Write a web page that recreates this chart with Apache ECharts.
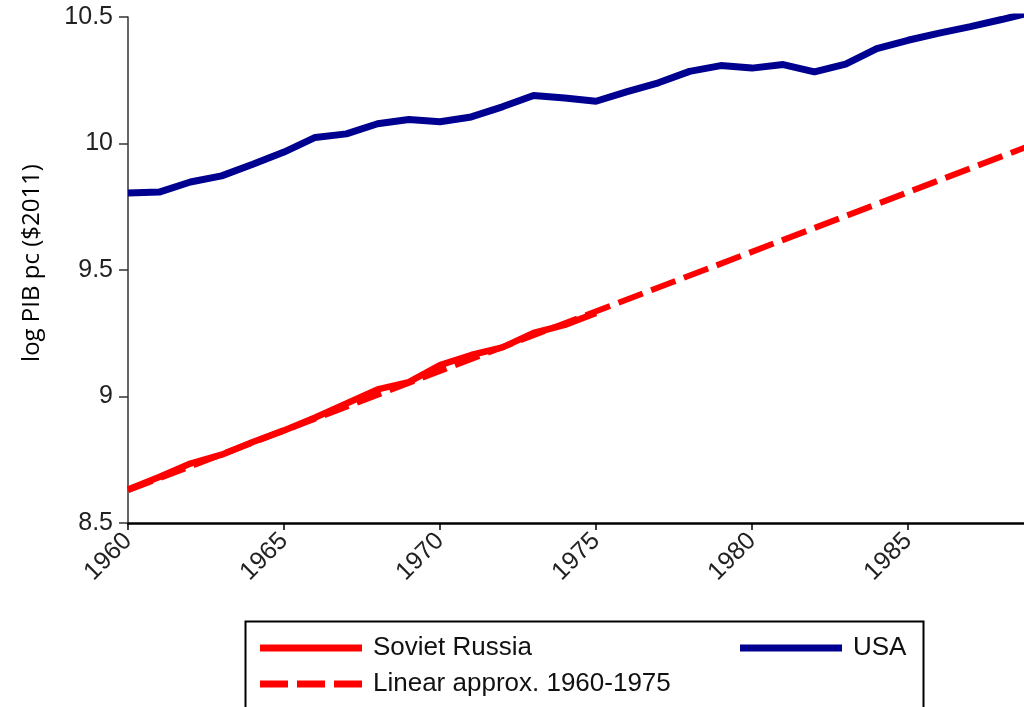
<!DOCTYPE html>
<html>
<head>
<meta charset="utf-8">
<script src="https://cdn.jsdelivr.net/npm/echarts@6/dist/echarts.min.js"></script>
<style>
  html, body { margin: 0; padding: 0; background: #fff; }
  #chart { width: 1024px; height: 707px; }
</style>
</head>
<body>
<div id="chart"></div>
<script>
// years shown on the x axis (the plot is cut on the right near 1989)
const years = [1960, 1961, 1962, 1963, 1964, 1965, 1966, 1967, 1968, 1969,
  1970, 1971, 1972, 1973, 1974, 1975, 1976, 1977, 1978, 1979,
  1980, 1981, 1982, 1983, 1984, 1985, 1986, 1987, 1988, 1989];

const usa = [9.804, 9.808, 9.848, 9.872, 9.918, 9.966, 10.024, 10.038, 10.078, 10.095,
  10.086, 10.105, 10.145, 10.19, 10.18, 10.167, 10.205, 10.24, 10.285, 10.308,
  10.298, 10.312, 10.283, 10.314, 10.375, 10.408, 10.436, 10.462, 10.49, 10.52];

// soviet russia, observed up to 1975
const russiaYears = years.slice(0, 16);
const russia = [8.632, 8.682, 8.735, 8.77, 8.82, 8.866, 8.917, 8.972, 9.028, 9.057,
  9.124, 9.164, 9.194, 9.251, 9.283, 9.33];

// linear approximation fitted on 1960-1975, extended
const linYears = [1960, 1990];
const linVals = [8.63, 10.043];

const yTicks = [8.5, 9, 9.5, 10, 10.5];

const pair = (xs, ys) => xs.map((x, i) => [x, ys[i]]);

// legend icons: plain bar and three dashes
const solidIcon = "path://M0,0h102v7h-102z";
const dashIcon = "path://M0,0h28v7h-28z M37,0h28v7h-28z M74,0h28v7h-28z";

const legendText = {
  fontFamily: "Liberation Sans, Arial",
  fontSize: 26,
  color: "#111",
  padding: [0, 0, 0, 6],
};

const chart = echarts.init(document.getElementById("chart"));

const option = {
  animation: false,
  backgroundColor: "#fff",
  grid: {
    left: 128,
    top: 17,
    width: 936,
    height: 506,
    outerBoundsMode: "none",
    containLabel: false,
  },
  xAxis: {
    type: "value",
    min: 1960,
    max: 1990,
    interval: 5,
    splitLine: { show: false },
    axisLine: { lineStyle: { color: "#000", width: 2.5 } },
    axisTick: { length: 7, lineStyle: { color: "#000", width: 1.5 } },
    axisLabel: {
      rotate: 45,
      margin: 14,
      showMaxLabel: false,
      fontFamily: "Liberation Sans, Arial",
      fontSize: 25,
      color: "#222",
      formatter: (v) => String(v),
    },
  },
  yAxis: {
    type: "value",
    min: yTicks[0],
    max: yTicks[yTicks.length - 1],
    interval: 0.5,
    name: "log PIB pc ($2011)",
    nameLocation: "middle",
    nameGap: 84,
    nameTextStyle: {
      fontFamily: "Open Sans",
      fontSize: 24,
      color: "#000",
      padding: [0, 0, 0, 14],
    },
    splitLine: { show: false },
    axisLine: { show: true, lineStyle: { color: "#333", width: 1.5 } },
    axisTick: { show: true, length: 9, lineStyle: { color: "#333", width: 1.5 } },
    axisLabel: {
      margin: 15,
      fontFamily: "Liberation Sans, Arial",
      fontSize: 25,
      color: "#222",
    },
  },
  legend: [
    {
      orient: "vertical",
      left: 255,
      top: 630,
      itemWidth: 102,
      itemHeight: 7,
      itemGap: 10,
      data: [
        { name: "Soviet Russia", icon: solidIcon },
        { name: "Linear approx. 1960-1975", icon: dashIcon },
      ],
      textStyle: legendText,
    },
    {
      left: 735,
      top: 630,
      itemWidth: 102,
      itemHeight: 7,
      data: [{ name: "USA", icon: solidIcon }],
      textStyle: legendText,
    },
  ],
  graphic: [
    {
      type: "rect",
      left: 243,
      top: 619,
      shape: { width: 678, height: 110 },
      style: { fill: null, stroke: "#000", lineWidth: 2 },
      z: -1,
    },
  ],
  series: [
    {
      name: "USA",
      type: "line",
      data: pair(years, usa),
      showSymbol: false,
      symbol: "none",
      lineStyle: { color: "#000090", width: 7 },
      itemStyle: { color: "#000090" },
    },
    {
      name: "Soviet Russia",
      type: "line",
      data: pair(russiaYears, russia),
      showSymbol: false,
      symbol: "none",
      lineStyle: { color: "#ff0000", width: 6.5 },
      itemStyle: { color: "#ff0000" },
    },
    {
      name: "Linear approx. 1960-1975",
      type: "line",
      data: pair(linYears, linVals),
      showSymbol: false,
      symbol: "none",
      lineStyle: { color: "#ff0000", width: 6, type: [26, 9] },
      itemStyle: { color: "#ff0000" },
    },
  ],
};

chart.setOption(option);
</script>
</body>
</html>
